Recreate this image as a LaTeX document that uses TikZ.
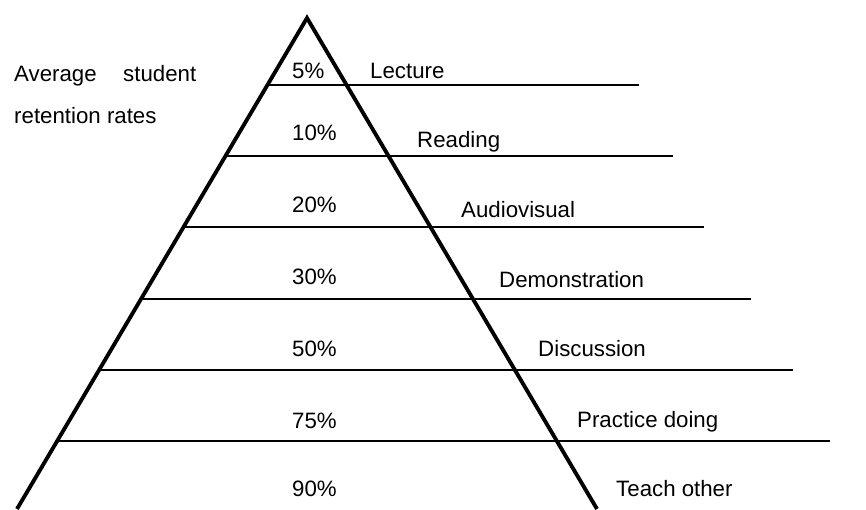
\documentclass[tikz,border=0pt]{standalone}
\usepackage{fontspec}
\setmainfont{Liberation Sans}
\tikzset{
	lbl/.style={anchor=base west,inner sep=0pt,font=\fontsize{19}{22}\selectfont},
	tier/.style={line width=1.2pt},
	pyr/.style={line width=3.3pt,line join=miter}
}
\begin{document}
\begin{tikzpicture}[x=0.3mm,y=-0.3mm]
	\useasboundingbox (0,0) rectangle (866,509);
	%	khung
	\draw[pyr] (17,509) -- (307,18) -- (597,509);
	%	tầng
	\draw[tier] ({307-0.59*(85-18)},85) -- (639,85);
	\draw[tier] ({307-0.59*(156-18)},156) -- (673,156);
	\draw[tier] ({307-0.59*(227-18)},227) -- (704,227);
	\draw[tier] ({307-0.59*(299-18)},299) -- (751,299);
	\draw[tier] ({307-0.59*(370-18)},370) -- (793,370);
	\draw[tier] ({307-0.59*(441-18)},441) -- (830,441);
	
	%	phần trăm
	\node[lbl] (p1) at (292,78) {5\%};
	\node[lbl] (p2) at (292,140) {10\%};
	\node[lbl] (p3) at (292,212) {20\%};
	\node[lbl] (p4) at (292,284) {30\%};
	\node[lbl] (p5) at (292,356) {50\%};
	\node[lbl] (p6) at (292,428) {75\%};
	\node[lbl] (p7) at (292,496) {90\%};
	
	%	hình thức
	\node[lbl] (m1) at (370,78) {Lecture};
	\node[lbl] (m2) at (417,147) {Reading};
	\node[lbl] (m3) at (461,217) {Audiovisual};
	\node[lbl] (m4) at (499,287) {Demonstration};
	\node[lbl] (m5) at (538,356) {Discussion};
	\node[lbl] (m6) at (577,427) {Practice doing};
	\node[lbl] (m7) at (616,496) {Teach other};
	
	\node[lbl] (t1) at (14,81) {\makebox[54.6mm][s]{Average student}};
	\node[lbl] (t2) at (14,123) {retention rates};
\end{tikzpicture}
\end{document}
